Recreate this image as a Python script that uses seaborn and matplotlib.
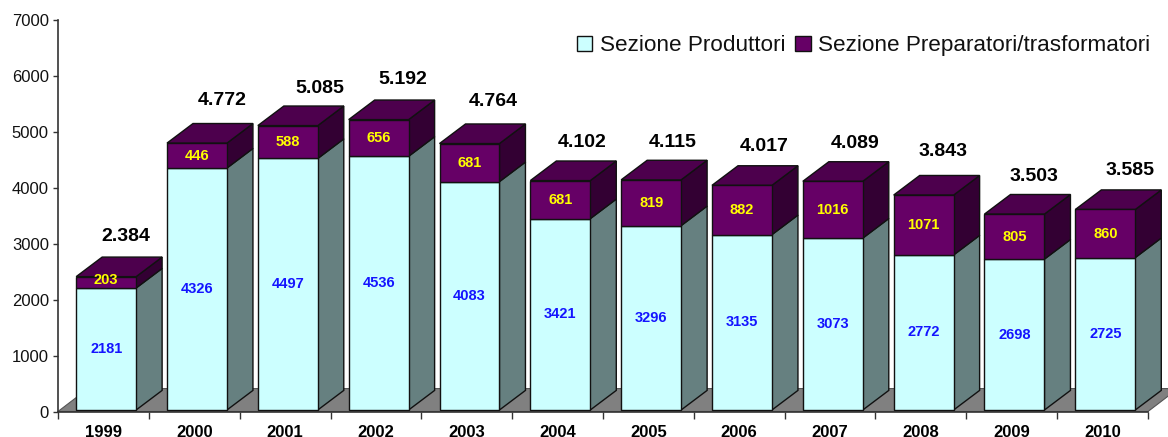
#!/usr/bin/env python
# -*- coding: utf-8 -*-

import numpy as np
import matplotlib
matplotlib.use('Agg')
import matplotlib.pyplot as plt
from matplotlib.patches import Patch
import seaborn as sns

## =============================== ##
## data

years = ['1999', '2000', '2001', '2002', '2003', '2004', '2005', '2006', '2007', '2008', '2009', '2010']
produttori = [2181, 4326, 4497, 4536, 4083, 3421, 3296, 3135, 3073, 2772, 2698, 2725]
preparatori = [203, 446, 588, 656, 681, 681, 819, 882, 1016, 1071, 805, 860]
total_labels = ['2.384', '4.772', '5.085', '5.192', '4.764', '4.102', '4.115', '4.017', '4.089', '3.843', '3.503', '3.585']

## label nudges in px from the bar centre / front top, the original has them placed by hand
nudge_x = [20, 25, 32, 24, 24, 22, 22, 22, 22, 19, 19, 25]
nudge_y = [40, 43, 37, 40, 42, 38, 37, 39, 38, 44, 38, 39]

## =============================== ##
## style

sns.set_style('white')
plt.rcParams['font.family'] = ['Liberation Sans', 'DejaVu Sans']

CYAN = '#CCFFFF'
CYAN_SIDE = '#668080'
PURPLE = '#660066'
PURPLE_TOP = '#4D004D'
PURPLE_SIDE = '#330033'
FLOOR = '#808080'
LINE = '#111111'

BAR_WIDTH = 0.66
BAR_SHIFT = 0.03
BAR_LIFT = 27.  # bars sit a bit above the axis line in the original
DEPTH_X = 26 / 90.83
DEPTH_Y = 350.
FLOOR_X = 30 / 90.83
FLOOR_Y = 410.

fig = plt.figure(figsize=(11.68, 4.37), dpi=100)
ax = fig.add_axes([58 / 1168, (437 - 411.5) / 437, 1090 / 1168, 391.5 / 437])

## =============================== ##
## front faces

sns.barplot(ax=ax, x=years, y=produttori, color=CYAN, saturation=1, width=BAR_WIDTH,
		errorbar=None, edgecolor=LINE, linewidth=1.)
sns.barplot(ax=ax, x=years, y=preparatori, bottom=produttori, color=PURPLE, saturation=1, width=BAR_WIDTH,
		errorbar=None, edgecolor=LINE, linewidth=1.)

ax.set_xlim(-0.5, 11.5)
ax.set_ylim(0, 7000)

for container in ax.containers:
	for rect in container:
		rect.set_x(rect.get_x() + BAR_SHIFT)
		rect.set_y(rect.get_y() + BAR_LIFT)
		rect.set_zorder(3)

## =============================== ##
## depth faces, taken from the bar rectangles

def side_face(rect, color):
	x = rect.get_x() + rect.get_width()
	y0, y1 = rect.get_y(), rect.get_y() + rect.get_height()
	ax.fill([x, x + DEPTH_X, x + DEPTH_X, x], [y0, y0 + DEPTH_Y, y1 + DEPTH_Y, y1],
			facecolor=color, edgecolor=LINE, linewidth=1., zorder=2, clip_on=False)

def top_face(rect, color):
	x0, x1 = rect.get_x(), rect.get_x() + rect.get_width()
	y = rect.get_y() + rect.get_height()
	ax.fill([x0, x1, x1 + DEPTH_X, x0 + DEPTH_X], [y, y, y + DEPTH_Y, y + DEPTH_Y],
			facecolor=color, edgecolor=LINE, linewidth=1., zorder=2, clip_on=False)

for rect in ax.containers[0]:
	side_face(rect, CYAN_SIDE)
for rect in ax.containers[1]:
	side_face(rect, PURPLE_SIDE)
	top_face(rect, PURPLE_TOP)

## floor
ax.fill([-0.5, -0.5 + FLOOR_X, 11.5 + FLOOR_X, 11.5], [0, FLOOR_Y, FLOOR_Y, 0],
		facecolor=FLOOR, edgecolor='#555555', linewidth=0.8, zorder=1, clip_on=False)

## =============================== ##
## labels

ax.bar_label(ax.containers[0], label_type='center', color='#1414FF', fontsize=10.5, fontweight='bold', zorder=4)
labs = ax.bar_label(ax.containers[1], label_type='center', color='#FFFF00', fontsize=10.5, fontweight='bold', zorder=4)
labs[0].xyann = (0, 2)  # 203 does not fit, sits high in the original

for rect, txt, dx, dy in zip(ax.containers[1], total_labels, nudge_x, nudge_y):
	ax.annotate(txt, (rect.get_x() + rect.get_width() / 2., rect.get_y() + rect.get_height()),
			xytext=(dx * 0.72, dy * 0.72), textcoords='offset points', ha='center', va='center',
			fontsize=14, fontweight='bold', color='black', annotation_clip=False)

## =============================== ##
## axes

ax.set_yticks(np.arange(0, 7001, 1000))
ax.tick_params(axis='y', left=True, length=3.6, width=1., color='#333333', pad=3, labelsize=12, labelcolor='#111111')
ax.set_xticks(np.arange(-0.5, 12, 1.), minor=True)
ax.tick_params(axis='x', which='minor', bottom=True, length=5, width=1., color='#333333')
ax.tick_params(axis='x', which='major', bottom=False, length=0, pad=9.5, labelsize=12, labelcolor='black')
for lab in ax.get_xticklabels():
	lab.set_fontweight('bold')
for side in ['left', 'bottom']:
	ax.spines[side].set_color('#333333')
	ax.spines[side].set_linewidth(1.2)
	ax.spines[side].set_zorder(5)
sns.despine(ax=ax, right=True, top=True)

handles = [Patch(facecolor=CYAN, edgecolor=LINE, label='Sezione Produttori'),
		Patch(facecolor=PURPLE, edgecolor=LINE, label='Sezione Preparatori/trasformatori')]
ax.legend(handles=handles, ncol=2, frameon=False, fontsize=16.2, loc='upper right', labelcolor='#111111',
		bbox_to_anchor=(1.012, 0.99), borderpad=0.5, borderaxespad=0, handlelength=0.68, handleheight=0.68,
		handletextpad=0.32, columnspacing=0.45, labelspacing=0)

fig.savefig('out.png', dpi=100)
